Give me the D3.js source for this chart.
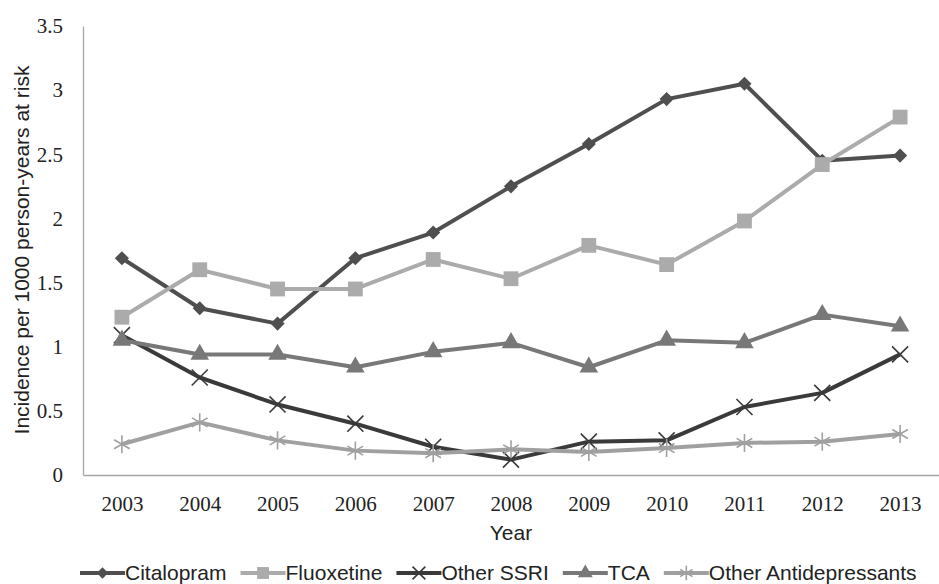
<!DOCTYPE html>
<html>
<head>
<meta charset="utf-8">
<script src="https://cdn.jsdelivr.net/npm/d3@7"></script>
<style>
  body { margin: 0; background: #fff; }
  .tick text { font-family: "Liberation Serif", serif; font-size: 21px; fill: #222; }
  .axisTitle { font-family: "Liberation Sans", Arial, sans-serif; font-size: 21px; fill: #222; }
  .legendText { font-family: "Liberation Sans", Arial, sans-serif; font-size: 21px; fill: #222; }
</style>
</head>
<body>
<svg id="chart" width="939" height="584"></svg>
<script>
// data
var years = ['2003','2004','2005','2006','2007','2008','2009','2010','2011','2012','2013'];
var citalopram = [1.69, 1.30, 1.18, 1.69, 1.89, 2.25, 2.58, 2.93, 3.05, 2.45, 2.49];
var fluoxetine = [1.23, 1.60, 1.45, 1.45, 1.68, 1.53, 1.79, 1.64, 1.98, 2.42, 2.79];
var otherSSRI = [1.09, 0.76, 0.55, 0.40, 0.22, 0.12, 0.26, 0.27, 0.53, 0.64, 0.94];
var tca = [1.05, 0.94, 0.94, 0.84, 0.96, 1.03, 0.84, 1.05, 1.03, 1.25, 1.16];
var otherAD = [0.24, 0.41, 0.27, 0.19, 0.17, 0.20, 0.18, 0.21, 0.25, 0.26, 0.32];
var yTicks = [0, 0.5, 1, 1.5, 2, 2.5, 3, 3.5];

var series = [
  {name: 'Citalopram', values: citalopram, color: '#4f4f4f', symbol: 'diamond'},
  {name: 'Fluoxetine', values: fluoxetine, color: '#ababab', symbol: 'square'},
  {name: 'Other SSRI', values: otherSSRI, color: '#3a3a3a', symbol: 'times'},
  {name: 'TCA', values: tca, color: '#787878', symbol: 'triangle'},
  {name: 'Other Antidepressants', values: otherAD, color: '#a0a0a0', symbol: 'asterisk'}
];

var svg = d3.select('#chart');

var x = d3.scalePoint().domain(years).range([83, 939]).padding(0.5);
var y = d3.scaleLinear().domain([0, 3.5]).range([475, 26]);

// axes
var yAxis = svg.append('g')
  .attr('transform', 'translate(83,0)')
  .call(d3.axisLeft(y).tickValues(yTicks).tickSize(0).tickPadding(20).tickFormat(function(d){ return String(d); }));
yAxis.select('.domain').attr('stroke', '#a6a6a6').attr('stroke-width', 1.3);

var xAxis = svg.append('g')
  .attr('transform', 'translate(0,475)')
  .call(d3.axisBottom(x).tickSize(0).tickPadding(20));
xAxis.select('.domain').attr('stroke', '#a6a6a6').attr('stroke-width', 1.3);
xAxis.selectAll('.tick text').attr('dy', '0.71em').attr('y', 21);

svg.append('text')
  .attr('class', 'axisTitle')
  .attr('x', 511)
  .attr('y', 540)
  .attr('text-anchor', 'middle')
  .text('Year');

svg.append('text')
  .attr('class', 'axisTitle')
  .attr('transform', 'translate(29,250) rotate(-90)')
  .attr('text-anchor', 'middle')
  .text('Incidence per 1000 person-years at risk');

function symbolPath(kind, scale) {
  var s = scale || 1;
  if (kind == 'diamond') return d3.symbol(d3.symbolSquare, 100 * s * s)();
  if (kind == 'square') return d3.symbol(d3.symbolSquare, 220 * s * s)();
  if (kind == 'times') return d3.symbol(d3.symbolTimes, 170 * s * s)();
  if (kind == 'triangle') return d3.symbol(d3.symbolTriangle, 150 * s * s)();
  return d3.symbol(d3.symbolAsterisk, 230 * s * s)();
}

function drawMarker(g, kind, color, cx, cy, scale) {
  var p = g.append('path')
    .attr('d', symbolPath(kind, scale))
    .attr('transform', 'translate(' + cx + ',' + cy + ')' + (kind == 'diamond' ? ' rotate(45)' : ''));
  if (kind == 'times' || kind == 'asterisk') {
    p.attr('fill', 'none').attr('stroke', color).attr('stroke-width', 1.6);
  } else {
    p.attr('fill', color);
  }
}

var line = d3.line()
  .x(function(d, i){ return x(years[i]); })
  .y(function(d){ return y(d); });

series.forEach(function(s) {
  var g = svg.append('g').attr('class', 'series');
  g.append('path')
    .attr('d', line(s.values))
    .attr('fill', 'none')
    .attr('stroke', s.color)
    .attr('stroke-width', 4)
    .attr('stroke-linejoin', 'round');
  s.values.forEach(function(v, i) {
    drawMarker(g, s.symbol, s.color, x(years[i]), y(v), 1);
  });
});

// legend
var lx = 80;
var ly = 573;
series.forEach(function(s) {
  var g = svg.append('g');
  g.append('line')
    .attr('x1', lx).attr('x2', lx + 45)
    .attr('y1', ly).attr('y2', ly)
    .attr('stroke', s.color)
    .attr('stroke-width', 4);
  drawMarker(g, s.symbol, s.color, lx + 22.5, ly, 0.8);
  var t = g.append('text')
    .attr('class', 'legendText')
    .attr('x', lx + 45)
    .attr('y', ly)
    .attr('dy', '0.35em')
    .text(s.name);
  lx = lx + 45 + t.node().getComputedTextLength() + 14;
});
</script>
</body>
</html>
